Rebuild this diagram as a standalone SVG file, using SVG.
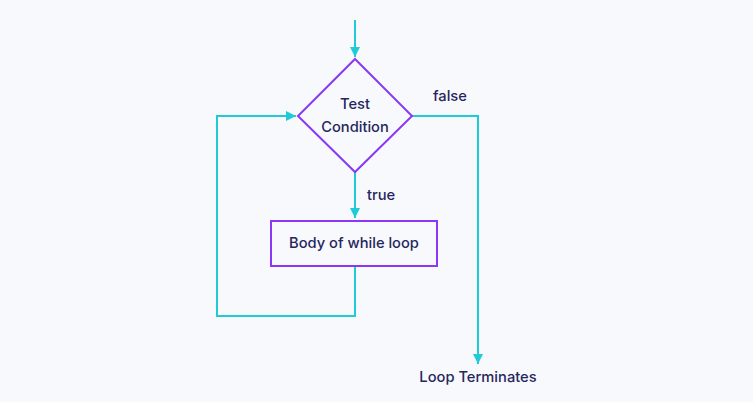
<svg xmlns="http://www.w3.org/2000/svg" width="753" height="402" viewBox="0 0 753 402">
<style>
.node{fill:#f8f9fc;stroke:#8a38f5;stroke-width:2}
.conn{fill:none;stroke:#1fcbd9;stroke-width:2}
text{font-family:Inter,"Open Sans",sans-serif;font-size:14.7px;fill:#25265e;font-weight:500}
</style>
<defs>
<marker id="ah" viewBox="0 0 10 10" refX="10" refY="5" markerWidth="10" markerHeight="10" markerUnits="userSpaceOnUse" orient="auto">
<path d="M0,0 L10,5 L0,10 z" fill="#1fcbd9"/>
</marker>
</defs>
<rect width="753" height="402" fill="#f8f9fc"/>
<g id="connectors">
<path class="conn" d="M355,20 V57" marker-end="url(#ah)"/>
<path class="conn" d="M355,172 V218" marker-end="url(#ah)"/>
<path class="conn" d="M355,266 V316 H217 V116 H296" marker-end="url(#ah)"/>
<path class="conn" d="M412,116 H478 V364" marker-end="url(#ah)"/>
</g>
<g id="condition">
<path class="node" d="M355,59 L412,116 L355,172 L298,116 Z"/>
<text x="355" y="109" text-anchor="middle">Test</text>
<text x="355" y="132" text-anchor="middle">Condition</text>
</g>
<g id="body">
<rect class="node" x="271" y="221" width="166" height="45"/>
<text x="354" y="248" text-anchor="middle">Body of while loop</text>
</g>
<g id="labels">
<text x="367" y="200">true</text>
<text x="433" y="101">false</text>
</g>
<g id="terminate">
<text x="478" y="382" text-anchor="middle">Loop Terminates</text>
</g>
</svg>
